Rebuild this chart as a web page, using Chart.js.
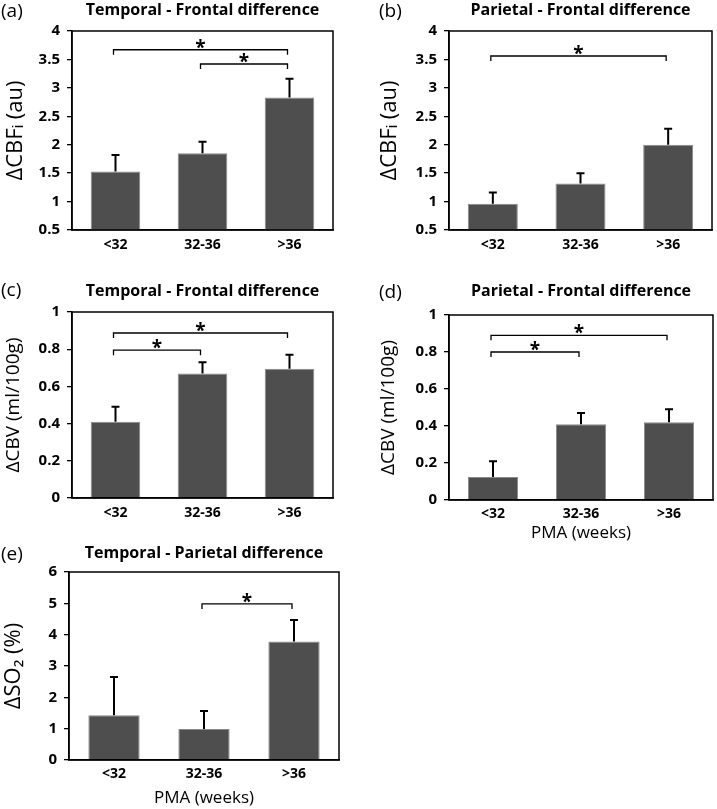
<!DOCTYPE html>
<html>
<head>
<meta charset="utf-8">
<script src="https://cdn.jsdelivr.net/npm/chart.js@4.4.1/dist/chart.umd.min.js"></script>
<style>
  body { margin: 0; background: #fff; }
  #page { position: relative; width: 717px; height: 809px; background: #fff; font-family: "Open Sans", sans-serif; }
  canvas { position: absolute; }
  .tag { position: absolute; font-size: 19px; line-height: 20px; color: #000; }
</style>
</head>
<body>
<div id="page">
  <canvas id="chartA" width="345" height="262" style="left:0px;top:0px"></canvas>
  <canvas id="chartB" width="360" height="262" style="left:357px;top:0px"></canvas>
  <canvas id="chartC" width="345" height="260" style="left:0px;top:270px"></canvas>
  <canvas id="chartD" width="360" height="275" style="left:357px;top:270px"></canvas>
  <canvas id="chartE" width="345" height="269" style="left:0px;top:540px"></canvas>
  <div class="tag" style="left:1px;top:0px">(a)</div>
  <div class="tag" style="left:379px;top:0px">(b)</div>
  <div class="tag" style="left:1px;top:279px">(c)</div>
  <div class="tag" style="left:379px;top:281px">(d)</div>
  <div class="tag" style="left:1px;top:543px">(e)</div>
</div>
<script>
// categories (PMA groups)
const categories = ['<32', '32-36', '>36'];

// (a) temporal - frontal, CBFi
const cbfTempVals = [1.53, 1.85, 2.83];
const cbfTempErr = [0.29, 0.20, 0.33];
const cbfTempSig = [[0, 2, 3.67], [1, 2, 3.42]];

// (b) parietal - frontal, CBFi
const cbfParVals = [0.96, 1.32, 2.00];
const cbfParErr = [0.20, 0.18, 0.28];
const cbfParSig = [[0, 2, 3.56]];

// (c) temporal - frontal, CBV
const cbvTempVals = [0.41, 0.67, 0.695];
const cbvTempErr = [0.08, 0.06, 0.075];
const cbvTempSig = [[0, 2, 0.887], [0, 1, 0.795]];

// (d) parietal - frontal, CBV
const cbvParVals = [0.125, 0.41, 0.42];
const cbvParErr = [0.085, 0.06, 0.07];
const cbvParSig = [[0, 2, 0.89], [0, 1, 0.80]];

// (e) temporal - parietal, SO2
const so2Vals = [1.43, 0.99, 3.78];
const so2Err = [1.22, 0.57, 0.69];
const so2Sig = [[1, 2, 4.98]];

const FONT = '"Open Sans", sans-serif';
const barFill = '#4e4e4e';
const barEdge = '#8a8a8a';

function makePanel(id, cfg) {
  // panel heading, centred over the plot area
  const heading = {
    id: 'heading',
    afterDraw(chart) {
      const a = chart.chartArea, ctx = chart.ctx;
      ctx.save();
      ctx.fillStyle = '#000';
      ctx.font = 'bold 16px ' + FONT;
      ctx.textAlign = 'center';
      ctx.textBaseline = 'middle';
      ctx.fillText(cfg.title, (a.left + a.right) / 2, cfg.titleY);
      ctx.restore();
    }
  };
  // box around the plot area
  const frame = {
    id: 'frame',
    afterDatasetsDraw(chart) {
      const a = chart.chartArea, ctx = chart.ctx;
      ctx.save();
      ctx.strokeStyle = '#000';
      ctx.lineWidth = 1.5;
      ctx.strokeRect(a.left, a.top, a.right - a.left, a.bottom - a.top);
      ctx.restore();
    }
  };
  // upward error bars
  const errorBars = {
    id: 'errorBars',
    afterDatasetsDraw(chart) {
      const ctx = chart.ctx, ys = chart.scales.y;
      const meta = chart.getDatasetMeta(0);
      ctx.save();
      ctx.strokeStyle = '#000';
      ctx.lineWidth = 2;
      meta.data.forEach((bar, i) => {
        const top = ys.getPixelForValue(cfg.values[i] + cfg.errors[i]);
        ctx.beginPath();
        ctx.moveTo(bar.x, bar.y);
        ctx.lineTo(bar.x, top);
        ctx.moveTo(bar.x - 4, top);
        ctx.lineTo(bar.x + 4, top);
        ctx.stroke();
      });
      ctx.restore();
    }
  };
  // significance brackets with stars
  const brackets = {
    id: 'brackets',
    afterDatasetsDraw(chart) {
      const ctx = chart.ctx, xs = chart.scales.x, ys = chart.scales.y;
      ctx.save();
      ctx.strokeStyle = '#000';
      ctx.fillStyle = '#000';
      ctx.lineWidth = 1.3;
      ctx.font = 'bold 19px ' + FONT;
      ctx.textAlign = 'center';
      ctx.textBaseline = 'alphabetic';
      cfg.sig.forEach(([i, j, v]) => {
        const x1 = xs.getPixelForValue(i) - 2, x2 = xs.getPixelForValue(j) - 2;
        const y = ys.getPixelForValue(v);
        ctx.beginPath();
        ctx.moveTo(x1, y + 5);
        ctx.lineTo(x1, y);
        ctx.lineTo(x2, y);
        ctx.lineTo(x2, y + 5);
        ctx.stroke();
        ctx.fillText('*', (x1 + x2) / 2, y + 4);
      });
      ctx.restore();
    }
  };

  new Chart(document.getElementById(id), {
    type: 'bar',
    data: {
      labels: categories,
      datasets: [{
        data: cfg.values,
        backgroundColor: barFill,
        borderColor: barEdge,
        borderWidth: 1,
        barPercentage: 0.57,
        categoryPercentage: 1
      }]
    },
    options: {
      responsive: false,
      animation: false,
      layout: { padding: { left: 0, right: cfg.padRight, top: cfg.padTop, bottom: 0 } },
      plugins: {
        legend: { display: false },
        tooltip: { enabled: false },
        title: { display: false }
      },
      scales: {
        x: {
          grid: { display: false, drawTicks: false },
          border: { color: '#000', width: 1.5 },
          ticks: { color: '#000', padding: cfg.xPad, font: { family: FONT, size: 14, weight: 'bold' } },
          title: {
            display: !!cfg.xTitle,
            text: cfg.xTitle || '',
            color: '#000',
            font: { family: FONT, size: 17, lineHeight: 1.2 },
            padding: { top: 0, bottom: cfg.xTitlePad || 0 }
          },
          afterFit(s) { s.height = cfg.xHeight; }
        },
        y: {
          min: cfg.min,
          max: cfg.max,
          ticks: {
            stepSize: cfg.step,
            color: '#000',
            padding: 7,
            font: { family: FONT, size: 15, weight: 'bold' },
            callback: v => String(Math.round(v * 100) / 100)
          },
          grid: { drawOnChartArea: false, drawTicks: true, tickLength: 5, color: '#000', lineWidth: 1.3 },
          border: { color: '#000', width: 1.5 },
          title: {
            display: true,
            text: cfg.yTitle,
            color: '#000',
            font: { family: FONT, size: cfg.yTitleSize, lineHeight: 1.2 },
            padding: { top: cfg.yTitlePad, bottom: 0 }
          },
          afterFit(s) { s.width = cfg.yWidth; }
        }
      }
    },
    plugins: [heading, frame, errorBars, brackets]
  });
}

makePanel('chartA', {
  values: cbfTempVals, errors: cbfTempErr, sig: cbfTempSig,
  title: 'Temporal - Frontal difference', yTitle: 'ΔCBFᵢ (au)',
  min: 0.5, max: 4, step: 0.5, padTop: 31, titleY: 10,
  yWidth: 72, padRight: 12, xHeight: 32, xPad: 7, yTitleSize: 22, yTitlePad: 3
});
makePanel('chartB', {
  values: cbfParVals, errors: cbfParErr, sig: cbfParSig,
  title: 'Parietal - Frontal difference', yTitle: 'ΔCBFᵢ (au)',
  min: 0.5, max: 4, step: 0.5, padTop: 31, titleY: 10,
  yWidth: 92, padRight: 5, xHeight: 32, xPad: 7, yTitleSize: 22, yTitlePad: 20
});
makePanel('chartC', {
  values: cbvTempVals, errors: cbvTempErr, sig: cbvTempSig,
  title: 'Temporal - Frontal difference', yTitle: 'ΔCBV (ml/100g)',
  min: 0, max: 1, step: 0.2, padTop: 42, titleY: 21,
  yWidth: 72, padRight: 12, xHeight: 32, xPad: 7, yTitleSize: 19, yTitlePad: 2.5
});
makePanel('chartD', {
  values: cbvParVals, errors: cbvParErr, sig: cbvParSig,
  title: 'Parietal - Frontal difference', yTitle: 'ΔCBV (ml/100g)',
  min: 0, max: 1, step: 0.2, padTop: 45, titleY: 21,
  yWidth: 92, padRight: 4, xHeight: 45, xPad: 6,
  xTitle: 'PMA (weeks)', xTitlePad: 2, yTitleSize: 19, yTitlePad: 20
});
makePanel('chartE', {
  values: so2Vals, errors: so2Err, sig: so2Sig,
  title: 'Temporal - Parietal difference', yTitle: 'ΔSO₂ (%)',
  min: 0, max: 6, step: 1, padTop: 32, titleY: 13,
  yWidth: 69, padRight: 6, xHeight: 49, xPad: 6,
  xTitle: 'PMA (weeks)', xTitlePad: 1, yTitleSize: 22, yTitlePad: 1
});
</script>
</body>
</html>
